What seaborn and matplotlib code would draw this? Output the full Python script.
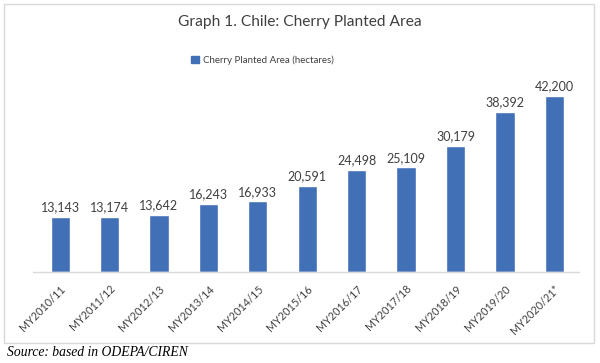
import matplotlib
matplotlib.use("Agg")
import matplotlib.pyplot as plt
import matplotlib.patches as mpatches
import seaborn as sns
import pandas as pd

# data
seasons = ["MY2010/11", "MY2011/12", "MY2012/13", "MY2013/14", "MY2014/15",
           "MY2015/16", "MY2016/17", "MY2017/18", "MY2018/19", "MY2019/20",
           "MY2020/21*"]
area = [13143, 13174, 13642, 16243, 16933, 20591, 24498, 25109, 30179,
        38392, 42200]

df = pd.DataFrame({"season": seasons, "area": area})

sns.set_theme(style="white")
plt.rcParams['font.family'] = ['Lato', 'DejaVu Sans']

bar_color = "#4270B6"
text_color = "#404040"

fig = plt.figure(figsize=(6, 3.63), dpi=100)

# light border round the chart area
fig.patches.append(mpatches.Rectangle((4 / 600, 1 - 343 / 363), 590 / 600, 339 / 363,
                                      transform=fig.transFigure, fill=False,
                                      edgecolor="#d9d9d9", linewidth=1))

ax = fig.add_axes([33 / 600, 1 - 272 / 363, 546 / 600, 202 / 363])
sns.barplot(data=df, x="season", y="area", color=bar_color, width=0.39,
            saturation=1, ax=ax)

ax.set_ylim(0, 48500)
ax.set_xlim(-0.55, 10.5)
ax.set_yticks([])
ax.set_xlabel("")
ax.set_ylabel("")
for s in ["top", "right", "left"]:
    ax.spines[s].set_visible(False)
ax.spines["bottom"].set_color("#d9d9d9")
ax.spines["bottom"].set_linewidth(1)
ax.tick_params(axis="x", length=0, pad=8)
plt.setp(ax.get_xticklabels(), rotation=45, ha="right", rotation_mode="anchor",
         fontsize=7.8, color=text_color)

for i, v in enumerate(area):
    ax.text(i, v + 900, f"{v:,}", ha="center", va="bottom", fontsize=9,
            color=text_color)

fig.text(0.5, 1 - 22 / 363, "Graph 1. Chile: Cherry Planted Area", ha="center",
         va="center", fontsize=11.2, color=text_color)

handle = mpatches.Patch(color=bar_color, label="Cherry Planted Area (hectares)")
fig.legend(handles=[handle], loc="center", bbox_to_anchor=(0.437, 1 - 60 / 363),
           frameon=False, fontsize=7, handlelength=0.8, handleheight=0.8,
           handletextpad=0.4, labelcolor=text_color)

fig.text(7 / 600, 1 - 353 / 363, "Source: based in ODEPA/CIREN", ha="left",
         va="center", fontsize=9.8, fontstyle="italic", family="Liberation Serif",
         color="#000000")

fig.savefig("out.png", dpi=100)
